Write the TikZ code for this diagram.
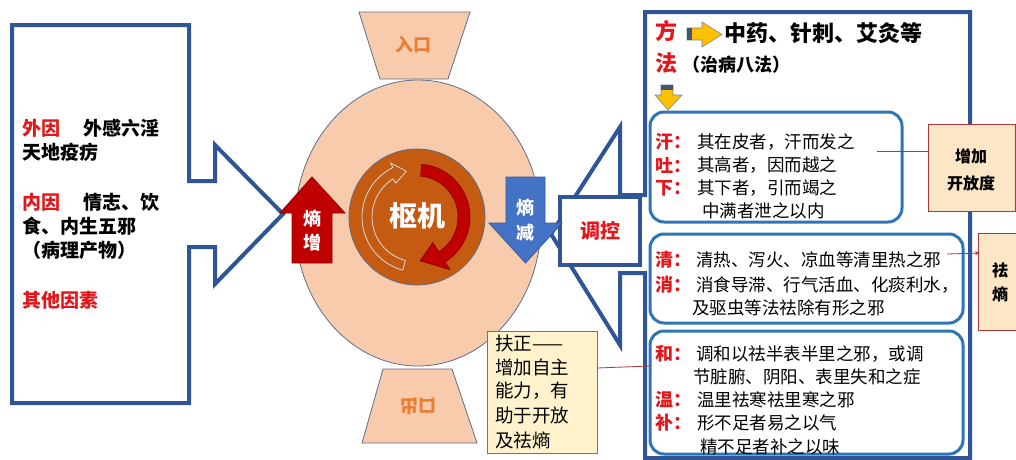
\documentclass[tikz,border=0pt]{standalone}
\usepackage{fontspec}
\usepackage{graphicx}
\newfontfamily\cjk{Noto Sans CJK SC}
\usetikzlibrary{arrows.meta}
\definecolor{navy}{HTML}{2F5597}
\definecolor{rbox}{HTML}{2E75B6}
\definecolor{peach}{HTML}{F8CBAD}
\definecolor{rust}{HTML}{C55A11}
\definecolor{dred}{HTML}{C00000}
\definecolor{tred}{HTML}{E3171B}
\definecolor{mblue}{HTML}{4472C4}
\definecolor{ora}{HTML}{ED7D31}
\definecolor{gold}{HTML}{FFC000}
\definecolor{tagf}{HTML}{FDE6C6}
\definecolor{tagb}{HTML}{A8383A}
\definecolor{fuf}{HTML}{FFF2CC}
\definecolor{edge}{HTML}{5E6E8A}
\definecolor{slate}{HTML}{44546A}
\tikzset{
  txt/.style={inner sep=0pt, anchor=west},
  ctxt/.style={inner sep=0pt, anchor=center},
  lefttxt/.style={txt, font=\cjk\bfseries\fontsize{19}{19}\selectfont},
  lab/.style={txt, text=tred, font=\cjk\bfseries\fontsize{18}{18}\selectfont},
  body/.style={txt, font=\cjk\fontsize{17.5}{17.5}\selectfont},
  rbx/.style={draw=rbox, line width=3pt, rounded corners=14pt},
  tagbox/.style={draw=tagb, fill=tagf, line width=1pt},
  tagtxt/.style={ctxt, font=\cjk\bfseries\fontsize{16}{16}\selectfont},
  fuline/.style={txt, font=\cjk\fontsize{18.5}{18.5}\selectfont},
  thinedge/.style={draw=edge, line width=0.8pt},
}
\begin{document}
\begin{tikzpicture}[x=1pt,y=1pt,yscale=-1]
\useasboundingbox (0,0) rectangle (1016,459);
\clip (0,0) rectangle (1016,459);
\fill[white] (0,0) rectangle (1016,459);

% left callout
\draw[navy, line width=4pt, fill=white, line join=miter]
  (12,25) -- (189,25) -- (189,181) -- (215,181) -- (215,145) -- (283,214)
  -- (215,284) -- (215,247) -- (189,247) -- (189,403) -- (12,403) -- cycle;
\node[lefttxt, text=tred] (wy) at (22,128) {外因};
\node[lefttxt] (wy2) at (83,128) {外感六淫};
\node[lefttxt] (wy3) at (22,152) {天地疫疠};
\node[lefttxt, text=tred] (ny) at (22,202) {内因};
\node[lefttxt] (ny2) at (83,202) {情志、饮};
\node[lefttxt] (ny3) at (22,226) {食、内生五邪};
\node[lefttxt] (ny4) at (22,250) {（病理产物）};
\node[lefttxt, text=tred] (qt) at (22,300) {其他因素};

% big ellipse and openings
\draw[thinedge, fill=peach] (418,223) ellipse [x radius=123, y radius=143];
\draw[thinedge, fill=peach] (359,12) -- (470,12) -- (448,79) -- (380,79) -- cycle;
\draw[thinedge, fill=peach] (383,369) -- (452,369) -- (477,443) -- (362,443) -- cycle;
\node[ctxt, text=ora, font=\cjk\bfseries\fontsize{18}{18}\selectfont] (rk) at (413,45) {入口};
\node[ctxt, text=ora, font=\cjk\bfseries\fontsize{18}{18}\selectfont] (ck) at (418,406) {\scalebox{1}[-1]{出口}};

% inner circle
\coordinate (C) at (417,217);
\draw[thinedge, fill=rust] (C) circle [radius=68];
% white outlined curved arrow
\draw[white!75!edge, line width=0.8pt]
  ([shift={(105:55)}]C) arc[start angle=105, end angle=244, radius=55]
  -- ([shift={(244:60)}]C) -- ([shift={(257:47)}]C) -- ([shift={(238:40)}]C)
  -- ([shift={(238:45)}]C) arc[start angle=238, end angle=105, radius=45] -- cycle;
% red curved arrow
\filldraw[fill=dred, draw=dred!70!black, line width=0.6pt]
  ([shift={(-85:53)}]C) arc[start angle=-85, end angle=58, radius=53]
  -- ([shift={(58:62)}]C) -- ([shift={(86:44)}]C) -- ([shift={(58:30)}]C)
  -- ([shift={(58:41)}]C) arc[start angle=58, end angle=-85, radius=41] -- cycle;
\node[ctxt, text=white, font=\cjk\bfseries\fontsize{28}{28}\selectfont] (sj) at (417,216) {枢机};

% entropy increase arrow
\draw[fill=dred, draw=dred!75!black, line width=0.8pt, line join=miter]
  (292,263) -- (292,213) -- (280,213) -- (312,177) -- (345,213) -- (332,213) -- (332,263) -- cycle;
\node[ctxt, text=white, font=\cjk\bfseries\fontsize{18}{18}\selectfont] (sz1) at (312,219) {熵};
\node[ctxt, text=white, font=\cjk\bfseries\fontsize{18}{18}\selectfont] (sz2) at (312,243) {增};

% right callout (method box)
\draw[navy, line width=4pt, fill=white, line join=miter]
  (645,12) -- (970,12) -- (970,458) -- (645,458) -- (645,273) -- (620,273)
  -- (620,345) -- (551,234) -- (620,127) -- (620,195) -- (645,195) -- cycle;
\draw[navy, line width=4pt, fill=white] (560,197) rectangle (640,265);
\node[ctxt, text=tred, font=\cjk\bfseries\fontsize{20}{20}\selectfont] (tk) at (600,231) {调控};

% entropy decrease arrow
\draw[fill=mblue, draw=mblue!80!black, line width=0.8pt, line join=miter]
  (506,177) -- (545,177) -- (545,223) -- (562,223) -- (525.5,263) -- (489,223) -- (506,223) -- cycle;
\node[ctxt, text=white, font=\cjk\bfseries\fontsize{18}{18}\selectfont] (sj1) at (525.5,208) {熵};
\node[ctxt, text=white, font=\cjk\bfseries\fontsize{18}{18}\selectfont] (sj2) at (525.5,233) {减};

% method header
\node[ctxt, text=tred, font=\cjk\bfseries\fontsize{22}{22}\selectfont] (fang) at (666,31) {方};
\node[ctxt, text=tred, font=\cjk\bfseries\fontsize{22}{22}\selectfont] (fa) at (666,63) {法};
\draw[fill=gold, draw=slate!70, line width=0.6pt, line join=miter]
  (687,28) -- (702,28) -- (702,22) -- (722,34.5) -- (702,47) -- (702,40) -- (687,40) -- cycle;
\fill[slate] (687.3,28.3) rectangle (692,39.7);
\node[txt, font=\cjk\bfseries\fontsize{22}{22}\selectfont] (zy) at (724,33) {中药、针刺、艾灸等};
\node[txt, font=\cjk\bfseries\fontsize{18}{18}\selectfont] (bf) at (682,65) {（治病八法）};
\draw[fill=gold, draw=slate!70, line width=0.6pt, line join=miter]
  (661,85) -- (673,85) -- (673,95) -- (682,95) -- (668,110) -- (655,95) -- (661,95) -- cycle;
\fill[slate] (661.3,85.3) rectangle (672.7,89.5);

% rounded boxes
\draw[rbx] (650,112) rectangle (902,222);
\draw[rbx] (650,234) rectangle (963,323);
\draw[rbx] (650,331) rectangle (963,454);

\node[lab] (l1) at (655,142) {汗：};
\node[body] (b1) at (697,142) {其在皮者，汗而发之};
\node[lab] (l2) at (655,165) {吐：};
\node[body] (b2) at (697,165) {其高者，因而越之};
\node[lab] (l3) at (655,188) {下：};
\node[body] (b3) at (697,188) {其下者，引而竭之};
\node[body] (b4) at (702,211) {中满者泄之以内};

\node[lab] (l4) at (655,260) {清：};
\node[body] (b5) at (696,260) {清热、泻火、凉血等清里热之邪};
\node[lab] (l5) at (655,285) {消：};
\node[body] (b6) at (696,285) {消食导滞、行气活血、化痰利水，};
\node[body] (b7) at (692,308) {及驱虫等法祛除有形之邪};

\node[lab] (l6) at (655,354) {和：};
\node[body] (b8) at (696,354) {调和以祛半表半里之邪，或调};
\node[body] (b9) at (693,377) {节脏腑、阴阳、表里失和之症};
\node[lab] (l7) at (655,400) {温：};
\node[body] (b10) at (697,400) {温里祛寒祛里寒之邪};
\node[lab] (l8) at (655,423) {补：};
\node[body] (b11) at (697,423) {形不足者易之以气};
\node[body] (b12) at (700,447) {精不足者补之以味};

% tags
\draw[tagbox] (928,124) rectangle (1015,211);
\node[tagtxt] (kf1) at (971,156) {增加};
\node[tagtxt] (kf2) at (971,183) {开放度};
\coordinate (kfw) at (928,151);
\coordinate (kfs) at (877,151);
\draw[tagb, line width=0.8pt] (kfs) -- (kfw);

\draw[tagbox] (978,233) rectangle (1030,330);
\node[tagtxt] (qs1) at (1000,270) {祛};
\node[tagtxt] (qs2) at (1000,294) {熵};
\coordinate (qss) at (947,254);
\coordinate (qsw) at (980,253);
\draw[tagb, line width=0.8pt, -{Stealth[length=5pt,width=4pt]}] (qss) -- (qsw);

% fuzheng box
\draw[draw=black!55, fill=fuf, line width=1pt] (487,331) rectangle (597,453);
\node[fuline] (f1) at (495,343) {扶正——};
\node[fuline] (f2) at (495,367) {增加自主};
\node[fuline] (f3) at (495,391) {能力，有};
\node[fuline] (f4) at (495,415) {助于开放};
\node[fuline] (f5) at (495,440) {及祛熵};
\coordinate (fue) at (597,368);
\coordinate (fut) at (650,366);
\draw[tagb, line width=0.8pt] (fue) -- (fut);
\end{tikzpicture}
\end{document}
